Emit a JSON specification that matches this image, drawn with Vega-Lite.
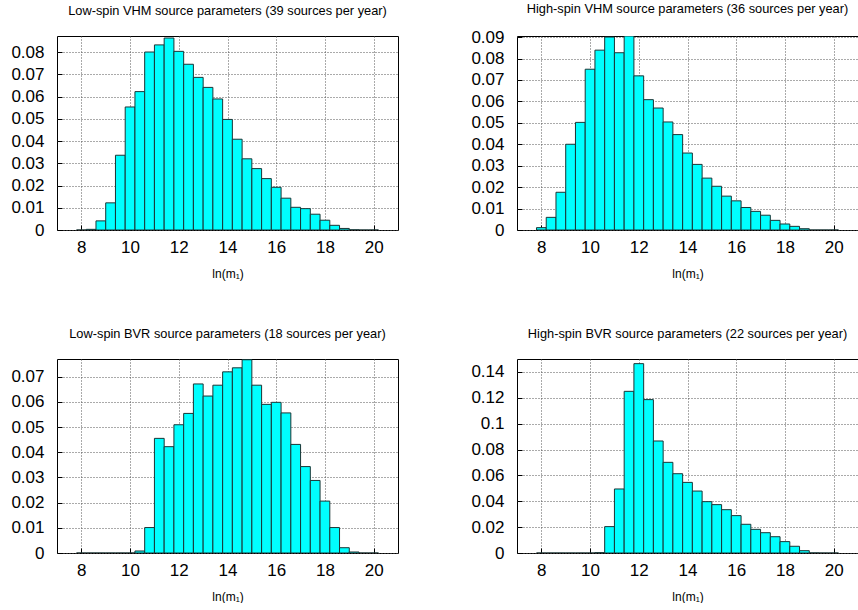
{
  "$schema": "https://vega.github.io/schema/vega-lite/v6.json",
  "background": "white",
  "padding": {"left": 10, "top": 2, "right": 0, "bottom": 0},
  "datasets": {
    "hist": [
      {"p":"A","lo":7.8,"hi":8.2,"y":0},{"p":"A","lo":8.2,"hi":8.6,"y":0.0003},{"p":"A","lo":8.6,"hi":9.0,"y":0.0041},{"p":"A","lo":9.0,"hi":9.4,"y":0.0122},{"p":"A","lo":9.4,"hi":9.8,"y":0.0336},{"p":"A","lo":9.8,"hi":10.2,"y":0.0553},{"p":"A","lo":10.2,"hi":10.6,"y":0.0622},{"p":"A","lo":10.6,"hi":11.0,"y":0.0800},{"p":"A","lo":11.0,"hi":11.4,"y":0.0832},{"p":"A","lo":11.4,"hi":11.8,"y":0.0863},{"p":"A","lo":11.8,"hi":12.2,"y":0.0803},{"p":"A","lo":12.2,"hi":12.6,"y":0.0745},{"p":"A","lo":12.6,"hi":13.0,"y":0.0686},{"p":"A","lo":13.0,"hi":13.4,"y":0.0641},{"p":"A","lo":13.4,"hi":13.8,"y":0.0589},{"p":"A","lo":13.8,"hi":14.2,"y":0.0497},{"p":"A","lo":14.2,"hi":14.6,"y":0.0408},{"p":"A","lo":14.6,"hi":15.0,"y":0.0320},{"p":"A","lo":15.0,"hi":15.4,"y":0.0276},{"p":"A","lo":15.4,"hi":15.8,"y":0.0231},{"p":"A","lo":15.8,"hi":16.2,"y":0.0192},{"p":"A","lo":16.2,"hi":16.6,"y":0.0143},{"p":"A","lo":16.6,"hi":17.0,"y":0.0102},{"p":"A","lo":17.0,"hi":17.4,"y":0.0096},{"p":"A","lo":17.4,"hi":17.8,"y":0.0071},{"p":"A","lo":17.8,"hi":18.2,"y":0.0044},{"p":"A","lo":18.2,"hi":18.6,"y":0.0021},{"p":"A","lo":18.6,"hi":19.0,"y":0.0007},{"p":"A","lo":19.0,"hi":19.4,"y":0.0001},{"p":"A","lo":19.4,"hi":19.8,"y":0},{"p":"A","lo":19.8,"hi":20.2,"y":0},
      {"p":"B","lo":7.8,"hi":8.2,"y":0.0011},{"p":"B","lo":8.2,"hi":8.6,"y":0.0059},{"p":"B","lo":8.6,"hi":9.0,"y":0.0176},{"p":"B","lo":9.0,"hi":9.4,"y":0.0400},{"p":"B","lo":9.4,"hi":9.8,"y":0.0502},{"p":"B","lo":9.8,"hi":10.2,"y":0.0750},{"p":"B","lo":10.2,"hi":10.6,"y":0.0839},{"p":"B","lo":10.6,"hi":11.0,"y":0.0900},{"p":"B","lo":11.0,"hi":11.4,"y":0.0827},{"p":"B","lo":11.4,"hi":11.8,"y":0.0905},{"p":"B","lo":11.8,"hi":12.2,"y":0.0719},{"p":"B","lo":12.2,"hi":12.6,"y":0.0608},{"p":"B","lo":12.6,"hi":13.0,"y":0.0569},{"p":"B","lo":13.0,"hi":13.4,"y":0.0504},{"p":"B","lo":13.4,"hi":13.8,"y":0.0445},{"p":"B","lo":13.8,"hi":14.2,"y":0.0359},{"p":"B","lo":14.2,"hi":14.6,"y":0.0306},{"p":"B","lo":14.6,"hi":15.0,"y":0.0242},{"p":"B","lo":15.0,"hi":15.4,"y":0.0204},{"p":"B","lo":15.4,"hi":15.8,"y":0.0158},{"p":"B","lo":15.8,"hi":16.2,"y":0.0136},{"p":"B","lo":16.2,"hi":16.6,"y":0.0105},{"p":"B","lo":16.6,"hi":17.0,"y":0.0087},{"p":"B","lo":17.0,"hi":17.4,"y":0.0069},{"p":"B","lo":17.4,"hi":17.8,"y":0.0045},{"p":"B","lo":17.8,"hi":18.2,"y":0.0028},{"p":"B","lo":18.2,"hi":18.6,"y":0.0017},{"p":"B","lo":18.6,"hi":19.0,"y":0.0006},{"p":"B","lo":19.0,"hi":19.4,"y":0},{"p":"B","lo":19.4,"hi":19.8,"y":0},{"p":"B","lo":19.8,"hi":20.2,"y":0},
      {"p":"C","lo":7.8,"hi":8.2,"y":0},{"p":"C","lo":8.2,"hi":8.6,"y":0},{"p":"C","lo":8.6,"hi":9.0,"y":0},{"p":"C","lo":9.0,"hi":9.4,"y":0},{"p":"C","lo":9.4,"hi":9.8,"y":0},{"p":"C","lo":9.8,"hi":10.2,"y":0},{"p":"C","lo":10.2,"hi":10.6,"y":0.0008},{"p":"C","lo":10.6,"hi":11.0,"y":0.0101},{"p":"C","lo":11.0,"hi":11.4,"y":0.0455},{"p":"C","lo":11.4,"hi":11.8,"y":0.0422},{"p":"C","lo":11.8,"hi":12.2,"y":0.0509},{"p":"C","lo":12.2,"hi":12.6,"y":0.0554},{"p":"C","lo":12.6,"hi":13.0,"y":0.0671},{"p":"C","lo":13.0,"hi":13.4,"y":0.0623},{"p":"C","lo":13.4,"hi":13.8,"y":0.0666},{"p":"C","lo":13.8,"hi":14.2,"y":0.0719},{"p":"C","lo":14.2,"hi":14.6,"y":0.0735},{"p":"C","lo":14.6,"hi":15.0,"y":0.0767},{"p":"C","lo":15.0,"hi":15.4,"y":0.0666},{"p":"C","lo":15.4,"hi":15.8,"y":0.0590},{"p":"C","lo":15.8,"hi":16.2,"y":0.0598},{"p":"C","lo":16.2,"hi":16.6,"y":0.0556},{"p":"C","lo":16.6,"hi":17.0,"y":0.0431},{"p":"C","lo":17.0,"hi":17.4,"y":0.0343},{"p":"C","lo":17.4,"hi":17.8,"y":0.0288},{"p":"C","lo":17.8,"hi":18.2,"y":0.0206},{"p":"C","lo":18.2,"hi":18.6,"y":0.0101},{"p":"C","lo":18.6,"hi":19.0,"y":0.0021},{"p":"C","lo":19.0,"hi":19.4,"y":0.0004},{"p":"C","lo":19.4,"hi":19.8,"y":0},{"p":"C","lo":19.8,"hi":20.2,"y":0},
      {"p":"D","lo":7.8,"hi":8.2,"y":0},{"p":"D","lo":8.2,"hi":8.6,"y":0},{"p":"D","lo":8.6,"hi":9.0,"y":0},{"p":"D","lo":9.0,"hi":9.4,"y":0},{"p":"D","lo":9.4,"hi":9.8,"y":0},{"p":"D","lo":9.8,"hi":10.2,"y":0},{"p":"D","lo":10.2,"hi":10.6,"y":0.0003},{"p":"D","lo":10.6,"hi":11.0,"y":0.0204},{"p":"D","lo":11.0,"hi":11.4,"y":0.0495},{"p":"D","lo":11.4,"hi":11.8,"y":0.1250},{"p":"D","lo":11.8,"hi":12.2,"y":0.1464},{"p":"D","lo":12.2,"hi":12.6,"y":0.1186},{"p":"D","lo":12.6,"hi":13.0,"y":0.0866},{"p":"D","lo":13.0,"hi":13.4,"y":0.0701},{"p":"D","lo":13.4,"hi":13.8,"y":0.0613},{"p":"D","lo":13.8,"hi":14.2,"y":0.0546},{"p":"D","lo":14.2,"hi":14.6,"y":0.0479},{"p":"D","lo":14.6,"hi":15.0,"y":0.0397},{"p":"D","lo":15.0,"hi":15.4,"y":0.0374},{"p":"D","lo":15.4,"hi":15.8,"y":0.0335},{"p":"D","lo":15.8,"hi":16.2,"y":0.0289},{"p":"D","lo":16.2,"hi":16.6,"y":0.0222},{"p":"D","lo":16.6,"hi":17.0,"y":0.0183},{"p":"D","lo":17.0,"hi":17.4,"y":0.0157},{"p":"D","lo":17.4,"hi":17.8,"y":0.0126},{"p":"D","lo":17.8,"hi":18.2,"y":0.0088},{"p":"D","lo":18.2,"hi":18.6,"y":0.0052},{"p":"D","lo":18.6,"hi":19.0,"y":0.0018},{"p":"D","lo":19.0,"hi":19.4,"y":0.0001},{"p":"D","lo":19.4,"hi":19.8,"y":0},{"p":"D","lo":19.8,"hi":20.2,"y":0}
    ]
  },
  "data": {"name": "hist"},
  "columns": 2,
  "bounds": "flush",
  "spacing": {"row": 129, "column": 119},
  "concat": [
    {
      "width": 341, "height": 194,
      "title": {"text": "Low-spin VHM source parameters (39 sources per year)"},
      "transform": [{"filter": "datum.p == 'A'"}],
      "mark": {"type": "rect", "fill": "#00ffff", "stroke": "#1a3535", "strokeWidth": 1, "clip": true},
      "encoding": {
        "x": {"field": "lo", "type": "quantitative", "title": "ln(m₁)", "scale": {"domain": [7, 21], "nice": false, "zero": false}, "axis": {"values": [8, 10, 12, 14, 16, 18, 20]}},
        "x2": {"field": "hi"},
        "y": {"field": "y", "type": "quantitative", "title": null, "scale": {"domain": [0, 0.0872], "nice": false}, "axis": {"values": [0, 0.01, 0.02, 0.03, 0.04, 0.05, 0.06, 0.07, 0.08]}},
        "y2": {"datum": 0}
      }
    },
    {
      "width": 341, "height": 194,
      "title": {"text": "High-spin VHM source parameters (36 sources per year)", "dy": 6},
      "transform": [{"filter": "datum.p == 'B'"}],
      "mark": {"type": "rect", "fill": "#00ffff", "stroke": "#1a3535", "strokeWidth": 1, "clip": true},
      "encoding": {
        "x": {"field": "lo", "type": "quantitative", "title": "ln(m₁)", "scale": {"domain": [7, 21], "nice": false, "zero": false}, "axis": {"values": [8, 10, 12, 14, 16, 18, 20]}},
        "x2": {"field": "hi"},
        "y": {"field": "y", "type": "quantitative", "title": null, "scale": {"domain": [0, 0.0905], "nice": false}, "axis": {"values": [0, 0.01, 0.02, 0.03, 0.04, 0.05, 0.06, 0.07, 0.08, 0.09]}},
        "y2": {"datum": 0}
      }
    },
    {
      "width": 341, "height": 194,
      "title": {"text": "Low-spin BVR source parameters (18 sources per year)"},
      "transform": [{"filter": "datum.p == 'C'"}],
      "mark": {"type": "rect", "fill": "#00ffff", "stroke": "#1a3535", "strokeWidth": 1, "clip": true},
      "encoding": {
        "x": {"field": "lo", "type": "quantitative", "title": "ln(m₁)", "scale": {"domain": [7, 21], "nice": false, "zero": false}, "axis": {"values": [8, 10, 12, 14, 16, 18, 20]}},
        "x2": {"field": "hi"},
        "y": {"field": "y", "type": "quantitative", "title": null, "scale": {"domain": [0, 0.077], "nice": false}, "axis": {"values": [0, 0.01, 0.02, 0.03, 0.04, 0.05, 0.06, 0.07]}},
        "y2": {"datum": 0}
      }
    },
    {
      "width": 341, "height": 194,
      "title": {"text": "High-spin BVR source parameters (22 sources per year)"},
      "transform": [{"filter": "datum.p == 'D'"}],
      "mark": {"type": "rect", "fill": "#00ffff", "stroke": "#1a3535", "strokeWidth": 1, "clip": true},
      "encoding": {
        "x": {"field": "lo", "type": "quantitative", "title": "ln(m₁)", "scale": {"domain": [7, 21], "nice": false, "zero": false}, "axis": {"values": [8, 10, 12, 14, 16, 18, 20]}},
        "x2": {"field": "hi"},
        "y": {"field": "y", "type": "quantitative", "title": null, "scale": {"domain": [0, 0.15], "nice": false}, "axis": {"values": [0, 0.02, 0.04, 0.06, 0.08, 0.1, 0.12, 0.14]}},
        "y2": {"datum": 0}
      }
    }
  ],
  "config": {
    "font": "Liberation Sans",
    "view": {"stroke": "#000000", "strokeWidth": 1},
    "title": {"fontSize": 12.8, "fontWeight": "normal", "font": "Liberation Sans", "color": "#000000", "frame": "group", "offset": 18, "anchor": "middle"},
    "axis": {
      "domain": false,
      "grid": true,
      "gridColor": "#555555",
      "gridDash": [1, 2],
      "gridWidth": 1,
      "gridOpacity": 1,
      "ticks": true,
      "tickColor": "#000000",
      "tickSize": -5,
      "tickWidth": 1,
      "labelFont": "Liberation Sans",
      "labelFontSize": 17,
      "labelColor": "#000000",
      "labelFlush": false,
      "labelOverlap": false,
      "format": "~f",
      "titleFont": "Liberation Sans",
      "titleFontSize": 12,
      "titleFontWeight": "normal",
      "titleColor": "#000000"
    },
    "axisX": {"labelPadding": 14, "titlePadding": 13},
    "axisY": {"labelPadding": 18}
  }
}
